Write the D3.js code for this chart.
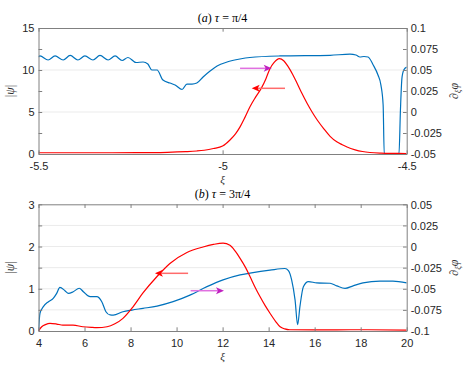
<!DOCTYPE html>
<html>
<head>
<meta charset="utf-8">
<script src="https://cdn.jsdelivr.net/npm/d3@7"></script>
<style>
  body { margin: 0; background: #fff; }
  .axis path, .axis line { stroke: #808080; }
  .mathText { font-family: "Liberation Serif", "DejaVu Serif", serif; }
</style>
</head>
<body>
<div id="my_dataviz"></div>
<script>

// ---- panel (a): tau = pi/4 ----
// |psi| (left axis, red)
var aPsiXi = [-5.5, -5.3, -5.2, -5.15, -5.1, -5.07, -5.05, -5.025, -5.0, -4.98, -4.965, -4.953, -4.94, -4.926, -4.91,
    -4.894, -4.882, -4.872, -4.86, -4.846, -4.834, -4.822, -4.81, -4.798, -4.785, -4.771, -4.757, -4.743, -4.725,
    -4.708, -4.69, -4.675, -4.662, -4.64, -4.62, -4.6, -4.57, -4.54, -4.5];
var aPsi = [0.15, 0.15, 0.17, 0.2, 0.28, 0.36, 0.45, 0.65, 0.95, 1.67, 2.4, 3.2, 4.3, 5.6, 6.8,
    7.9, 9.0, 10.1, 10.9, 11.35, 11.1, 10.4, 9.5, 8.45, 7.25, 6.07, 5.0, 4.05, 3.0,
    2.1, 1.45, 1.1, 0.83, 0.5, 0.3, 0.18, 0.1, 0.07, 0.06];
// d_xi phi (right axis, blue)
var aPhiXi = [-5.5, -5.496, -5.474, -5.455, -5.433, -5.414, -5.393, -5.374, -5.352, -5.333, -5.311, -5.292, -5.273,
    -5.257, -5.235, -5.216, -5.203, -5.192, -5.178, -5.162, -5.143, -5.129, -5.11, -5.097, -5.083, -5.07, -5.053,
    -5.034, -5.015, -4.988, -4.953, -4.926, -4.844, -4.708, -4.654, -4.638, -4.627, -4.616, -4.605, -4.591, -4.578,
    -4.57, -4.564, -4.561, -4.521, -4.517, -4.513, -4.508, -4.5];
var aPhi = [0.0655, 0.0667, 0.0619, 0.0667, 0.0619, 0.0673, 0.0619, 0.0667, 0.0619, 0.0673, 0.0619, 0.0667, 0.0613,
    0.0649, 0.0589, 0.0595, 0.0571, 0.05, 0.05, 0.0381, 0.0345, 0.0321, 0.0268, 0.0333, 0.0333, 0.0345, 0.0417,
    0.0488, 0.0548, 0.0595, 0.0631, 0.0649, 0.0667, 0.0675, 0.0688, 0.0679, 0.0655, 0.0661, 0.0655, 0.056, 0.044,
    0.0321, 0.0083, -0.05, -0.05, 0.0024, 0.04, 0.05, 0.0536];

// ---- panel (b): tau = 3pi/4 ----
var bPsiXi = [4.0, 4.14, 4.3, 4.5, 4.79, 5.06, 5.5, 5.93, 6.3, 6.54, 6.98, 7.32, 7.67, 8.06, 8.54, 9.15, 9.71,
    10.45, 11.15, 11.6, 12.02, 12.32, 12.55, 12.76, 13.0, 13.19, 13.4, 13.63, 13.85, 14.06, 14.3, 14.5, 14.7,
    14.92, 16, 18, 20];
var bPsi = [0.0, 0.1, 0.15, 0.18, 0.165, 0.14, 0.14, 0.1, 0.085, 0.08, 0.1, 0.17, 0.3, 0.54, 0.9, 1.29, 1.6,
    1.86, 1.99, 2.05, 2.08, 2.03, 1.89, 1.72, 1.5, 1.29, 1.05, 0.81, 0.6, 0.42, 0.23, 0.1, 0.05,
    0.03, 0.025, 0.03, 0.02];
var bPhiXi = [4.0, 4.065, 4.21, 4.43, 4.64, 4.79, 4.93, 5.15, 5.3, 5.51, 5.77, 5.95, 6.24, 6.53, 6.75, 6.93, 7.11,
    7.25, 7.67, 8.06, 8.54, 9.15, 9.85, 10.58, 11.32, 12.02, 12.76, 13.19, 14.06, 14.71, 14.86, 15.0, 15.15,
    15.26, 15.36, 15.51, 15.73, 16.09, 16.67, 16.96, 17.32, 17.67, 18.1, 18.84, 19.4, 20];
var bPhi = [-0.1, -0.079, -0.0712, -0.0653, -0.0613, -0.0554, -0.0483, -0.0523, -0.0554, -0.0535, -0.0494, -0.0535,
    -0.0594, -0.0594, -0.0653, -0.0772, -0.081, -0.0812, -0.0772, -0.0752, -0.0732, -0.0705, -0.0653, -0.0575,
    -0.0475, -0.0395, -0.0335, -0.0315, -0.028, -0.026, -0.0285, -0.0395, -0.0635, -0.0925, -0.0712, -0.0475,
    -0.0415, -0.043, -0.0435, -0.0465, -0.0495, -0.0465, -0.043, -0.041, -0.041, -0.043];

// ticks
var aXTicks = [-5.5, -5, -4.5];
var aLeftTicks = [0, 2.5, 5, 7.5, 10, 12.5, 15];
var aLeftLabels = [0, 5, 10, 15];
var aRightTicks = [-0.05, -0.025, 0, 0.025, 0.05, 0.075, 0.1];
var bXTicks = [4, 6, 8, 10, 12, 14, 16, 18, 20];
var bLeftTicks = [0, 0.5, 1, 1.5, 2, 2.5, 3];
var bLeftLabels = [0, 1, 2, 3];
var bRightTicks = [-0.1, -0.075, -0.05, -0.025, 0, 0.025, 0.05];

// annotation arrows: [xi start, xi end, |psi| level]
var aRedArrow = [-4.8305, -4.921, 7.82];
var aMagArrow = [-4.9526, -4.8667, 10.2];
var bRedArrow = [10.5, 9.06, 1.366];
var bMagArrow = [10.61, 12.06, 0.954];

var W = 469, H = 373;
var svg = d3.select("#my_dataviz")
    .append("svg")
    .attr("width", W)
    .attr("height", H);

var defs = svg.append("defs");
var tickFont = "Liberation Sans, Arial, Helvetica, sans-serif";

function fmt(d) { return String(+d.toFixed(3)); }

function drawPanel(o) {
    var g = svg.append("g")
        .attr("transform", "translate(" + o.left + "," + o.top + ")");
    var width = o.width, height = o.height;

    var x = d3.scaleLinear().domain(o.xDomain).range([0, width]);
    var yL = d3.scaleLinear().domain(o.leftDomain).range([height, 0]);
    var yR = d3.scaleLinear().domain(o.rightDomain).range([height, 0]);

    // gridlines
    g.append("g")
        .selectAll("line")
        .data(o.grid)
        .enter()
        .append("line")
        .attr("x1", 0).attr("x2", width)
        .attr("y1", function (d) { return yL(d); })
        .attr("y2", function (d) { return yL(d); })
        .style("stroke", "#ebebeb")
        .style("stroke-width", 1);

    // clip
    defs.append("clipPath").attr("id", o.id + "clip")
        .append("rect").attr("width", width).attr("height", height + 1).attr("y", -0.5);

    var lines = g.append("g").attr("clip-path", "url(#" + o.id + "clip)");

    var lineL = d3.line()
        .x(function (d) { return x(d[0]); })
        .y(function (d) { return yL(d[1]); })
        .curve(d3.curveMonotoneX);
    var lineR = d3.line()
        .x(function (d) { return x(d[0]); })
        .y(function (d) { return yR(d[1]); })
        .curve(d3.curveMonotoneX);

    lines.append("path")
        .datum(d3.zip(o.phiXi, o.phi))
        .attr("d", lineR)
        .style("fill", "none")
        .style("stroke", "#0072BD")
        .style("stroke-width", 1.2);

    lines.append("path")
        .datum(d3.zip(o.psiXi, o.psi))
        .attr("d", lineL)
        .style("fill", "none")
        .style("stroke", "#ff0000")
        .style("stroke-width", 1.2);

    // arrows
    function arrow(a, lineCol, headCol) {
        var x1 = x(a[0]), x2 = x(a[1]), yy = yL(a[2]);
        var dir = x2 > x1 ? 1 : -1;
        g.append("line")
            .attr("x1", x1).attr("x2", x2 - dir * 4)
            .attr("y1", yy).attr("y2", yy)
            .style("stroke", lineCol)
            .style("stroke-width", 1.5);
        g.append("path")
            .attr("d", "M" + x2 + "," + yy + "L" + (x2 - dir * 8) + "," + (yy - 3.5) +
                "L" + (x2 - dir * 6) + "," + yy + "L" + (x2 - dir * 8) + "," + (yy + 3.5) + "Z")
            .style("fill", headCol);
    }
    arrow(o.redArrow, "#ff6b6b", "#ff0000");
    arrow(o.magArrow, "#e070e0", "#c020c0");

    // axes
    var xAxisG = g.append("g")
        .attr("class", "axis")
        .attr("transform", "translate(0," + height + ")")
        .call(d3.axisBottom(x).tickValues(o.xTicks).tickFormat(fmt)
            .tickSizeInner(-3.7).tickSizeOuter(0).tickPadding(3));
    g.append("g")
        .attr("class", "axis")
        .call(d3.axisTop(x).tickValues(o.xTicks).tickFormat("")
            .tickSizeInner(-3.7).tickSizeOuter(0));
    g.append("g")
        .attr("class", "axis")
        .call(d3.axisLeft(yL).tickValues(o.leftTicks)
            .tickFormat(function (d) { return o.leftLabels.indexOf(d) >= 0 ? fmt(d) : ""; })
            .tickSizeInner(-3.7).tickSizeOuter(0).tickPadding(4));
    g.append("g")
        .attr("class", "axis")
        .attr("transform", "translate(" + width + ",0)")
        .call(d3.axisRight(yR).tickValues(o.rightTicks).tickFormat(fmt)
            .tickSizeInner(-3.7).tickSizeOuter(0).tickPadding(4));

    g.selectAll(".axis")
        .attr("font-family", tickFont)
        .attr("font-size", 11);
    g.selectAll(".tick text").attr("dy", "0.35em").style("fill", "#262626");
    xAxisG.selectAll(".tick text").attr("dy", "1.2em");

    // title
    var t = svg.append("text")
        .attr("class", "mathText")
        .attr("x", o.left + width / 2)
        .attr("y", o.top - 6)
        .style("text-anchor", "middle")
        .style("font-size", "12px")
        .style("fill", "#000");
    t.append("tspan").text("(");
    t.append("tspan").style("font-style", "italic").text(o.tag);
    t.append("tspan").text(") ");
    t.append("tspan").style("font-style", "italic").text("τ");
    t.append("tspan").text(" = " + o.tauText);

    // x label
    svg.append("text")
        .attr("class", "mathText")
        .attr("x", o.left + width / 2)
        .attr("y", o.top + height + 29)
        .style("text-anchor", "middle")
        .style("font-style", "italic")
        .style("font-size", "11px")
        .style("fill", "#333")
        .text("ξ");

    // left y label
    var yl = svg.append("text")
        .attr("class", "mathText")
        .attr("transform", "translate(" + 14 + "," + (o.top + height / 2) + ") rotate(-90)")
        .style("text-anchor", "middle")
        .style("font-size", "12px")
        .style("fill", "#333");
    yl.append("tspan").text("|");
    yl.append("tspan").style("font-style", "italic").text("ψ");
    yl.append("tspan").text("|");

    // right y label
    var yr = svg.append("text")
        .attr("class", "mathText")
        .attr("transform", "translate(" + 458 + "," + (o.top + height / 2) + ") rotate(-90)")
        .style("text-anchor", "middle")
        .style("font-size", "12px")
        .style("fill", "#333");
    yr.append("tspan").style("font-style", "italic").text("∂");
    yr.append("tspan").style("font-style", "italic").style("font-size", "8.5px").attr("dy", 3).text("ξ");
    yr.append("tspan").style("font-style", "italic").attr("dy", -3).text("φ");
}

drawPanel({
    id: "a", left: 38.5, top: 28, width: 368.2, height: 126,
    xDomain: [-5.5, -4.5], leftDomain: [0, 15], rightDomain: [-0.05, 0.1],
    grid: [5, 10],
    psiXi: aPsiXi, psi: aPsi, phiXi: aPhiXi, phi: aPhi,
    xTicks: aXTicks, leftTicks: aLeftTicks, leftLabels: aLeftLabels, rightTicks: aRightTicks,
    redArrow: aRedArrow, magArrow: aMagArrow,
    tag: "a", tauText: "π/4"
});

drawPanel({
    id: "b", left: 38.5, top: 204.3, width: 368.2, height: 126.7,
    xDomain: [4, 20], leftDomain: [0, 3], rightDomain: [-0.1, 0.05],
    grid: [0.5, 1, 1.5, 2, 2.5],
    psiXi: bPsiXi, psi: bPsi, phiXi: bPhiXi, phi: bPhi,
    xTicks: bXTicks, leftTicks: bLeftTicks, leftLabels: bLeftLabels, rightTicks: bRightTicks,
    redArrow: bRedArrow, magArrow: bMagArrow,
    tag: "b", tauText: "3π/4"
});

</script>
</body>
</html>
